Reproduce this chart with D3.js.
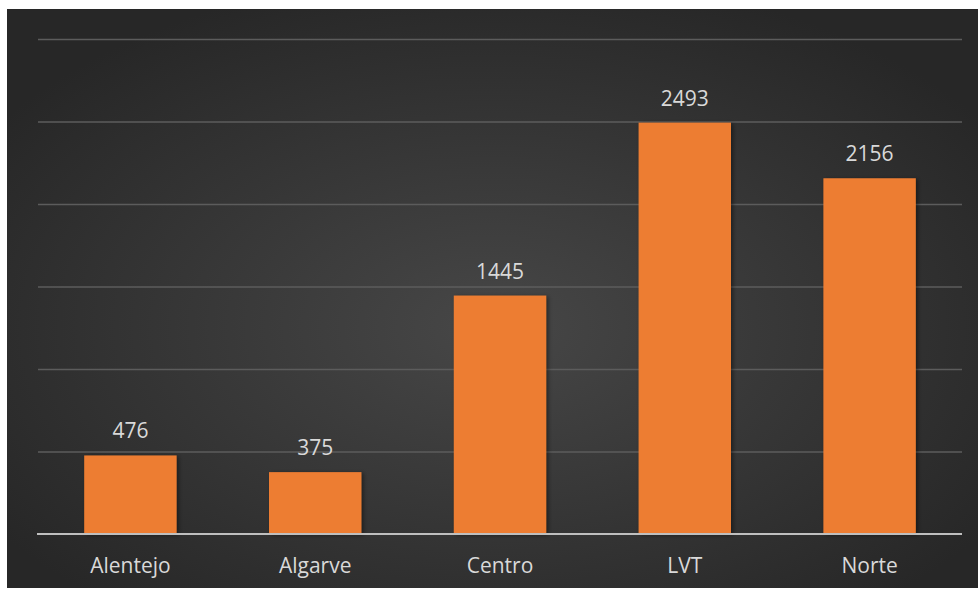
<!DOCTYPE html>
<html><head><meta charset="utf-8">
<script src="https://cdn.jsdelivr.net/npm/d3@7"></script>
<style>html,body{margin:0;padding:0;background:#fff;overflow:hidden}</style>
</head><body>
<svg id="chart" width="978" height="591"></svg>
<script>
const categories = ["Alentejo", "Algarve", "Centro", "LVT", "Norte"];
const values = [476, 375, 1445, 2493, 2156];
const yTicks = [0, 500, 1000, 1500, 2000, 2500, 3000];

const svg = d3.select("#chart");
const defs = svg.append("defs");
const grad = defs.append("radialGradient").attr("id", "bg")
  .attr("cx", "50%").attr("cy", "55%").attr("r", "62%");
grad.append("stop").attr("offset", "0%").attr("stop-color", "#474747");
grad.append("stop").attr("offset", "100%").attr("stop-color", "#272727");
const shadow = defs.append("filter").attr("id", "sh").attr("x", "-10%").attr("y", "-10%").attr("width", "130%").attr("height", "130%");
shadow.append("feDropShadow").attr("dx", 2).attr("dy", 1).attr("stdDeviation", 2).attr("flood-color", "#000").attr("flood-opacity", 0.45);

svg.append("rect").attr("x", 7).attr("y", 9).attr("width", 971).attr("height", 579).attr("fill", "url(#bg)");

const x = d3.scaleBand().domain(categories).range([38, 962]).paddingInner(0.5).paddingOuter(0.25);
const y = d3.scaleLinear().domain([0, 3000]).range([534, 39]);

const grid = svg.append("g").attr("transform", "translate(38,0)")
  .call(d3.axisLeft(y).tickValues(yTicks.slice(1)).tickSize(-924).tickFormat(""));
grid.select(".domain").remove();
grid.selectAll(".tick line").attr("stroke", "#5c5c5c").attr("stroke-width", 1.5);

svg.append("g").selectAll("rect").data(values).join("rect")
  .attr("x", (d, i) => x(categories[i]))
  .attr("y", d => y(d))
  .attr("width", x.bandwidth())
  .attr("height", d => y(0) - y(d))
  .attr("fill", "#ED7D31")
  .attr("filter", "url(#sh)");

const xAxis = svg.append("g").attr("transform", "translate(0,534)")
  .call(d3.axisBottom(x).tickSize(0).tickPadding(39));
xAxis.select(".domain").attr("stroke", "#bfbfbf").attr("stroke-width", 2).attr("d", "M37,0H962");
xAxis.selectAll("text").attr("fill", "#d9d9d9").attr("font-family", "Open Sans").attr("font-size", 21).attr("dy", "0");

svg.append("g").selectAll("text").data(values).join("text")
  .attr("x", (d, i) => x(categories[i]) + x.bandwidth() / 2)
  .attr("y", d => y(d) - 17)
  .attr("text-anchor", "middle")
  .attr("fill", "#d9d9d9")
  .attr("font-family", "Open Sans")
  .attr("font-size", 21)
  .text(d => d);
</script>
</body></html>
